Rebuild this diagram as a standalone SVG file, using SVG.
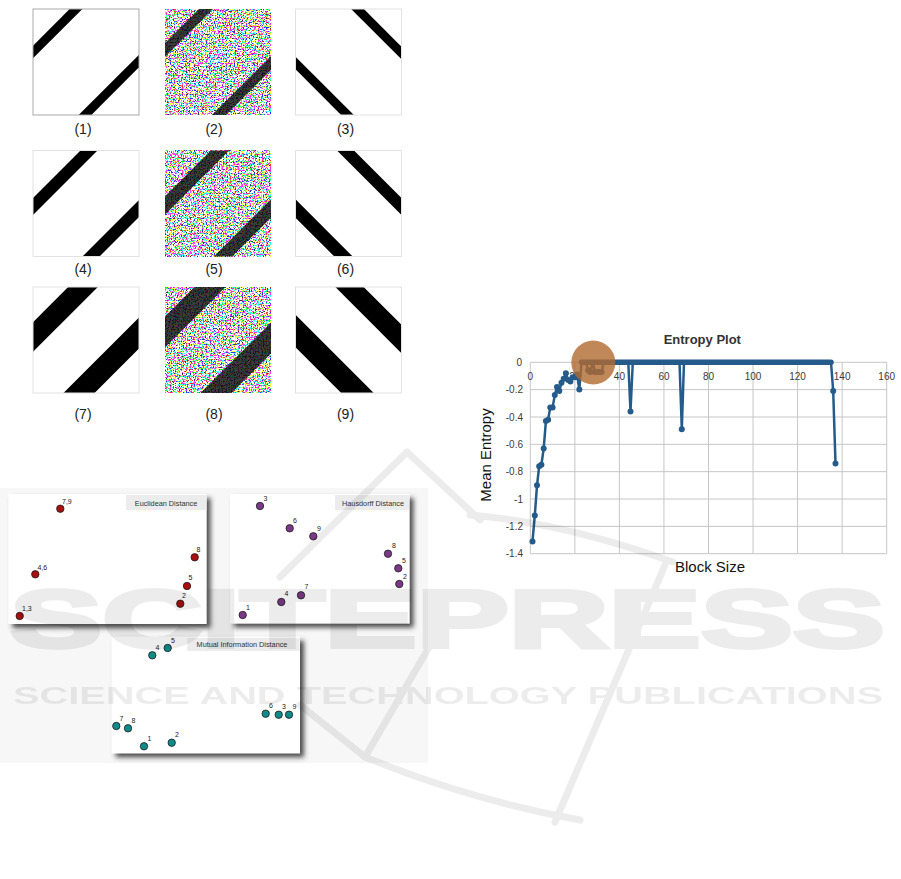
<svg xmlns="http://www.w3.org/2000/svg" width="901" height="879" viewBox="0 0 901 879">
<style>
text{font-family:"Liberation Sans",Arial,sans-serif}
.bg{fill:#fff}
.frame{fill:none;stroke:#e2e2e2;stroke-width:1}
.frame1{fill:none;stroke:#a9a9a9;stroke-width:1}
.st{stroke:#000;fill:none}
.stn{stroke:#000;stroke-opacity:0.76;fill:none}
.cap{font-size:14px;fill:#222;text-anchor:middle}
.panel{fill:#fff}
.tbar{fill:#ececec}
.ttl{font-size:7.3px;fill:#333;text-anchor:middle}
.pl{font-size:7px;fill:#222}
.red{fill:#a80f0f;stroke:#1a1a1a;stroke-width:0.8}
.pur{fill:#7a3a88;stroke:#1a1a1a;stroke-width:0.8}
.teal{fill:#0f8c89;stroke:#1a1a1a;stroke-width:0.8}
.grid{stroke:#c6c6c6;stroke-width:1;fill:none}
.tick{font-size:10px;fill:#3a3a3a}
.ser{fill:none;stroke:#245b8a;stroke-width:2.5;stroke-linejoin:round}
.mk{fill:#245b8a}
</style>
<defs>
<clipPath id="box"><rect width="106" height="106"/></clipPath>
<filter id="noiseA" x="0" y="0" width="1" height="1" color-interpolation-filters="sRGB">
<feTurbulence type="fractalNoise" baseFrequency="0.75" numOctaves="1" seed="3"/>
<feColorMatrix type="matrix" values="3 0 0 0 -1  0 3 0 0 -1  0 0 3 0 -1  0 0 0 0 1"/>
<feComponentTransfer><feFuncR type="discrete" tableValues="0.2 1 1"/><feFuncG type="discrete" tableValues="0.2 1 1"/><feFuncB type="discrete" tableValues="0.25 1 1"/><feFuncA type="linear" slope="0" intercept="1"/></feComponentTransfer>
</filter>
<filter id="noiseB" x="0" y="0" width="1" height="1" color-interpolation-filters="sRGB">
<feTurbulence type="fractalNoise" baseFrequency="0.75" numOctaves="1" seed="11"/>
<feColorMatrix type="matrix" values="3 0 0 0 -1  0 3 0 0 -1  0 0 3 0 -1  0 0 0 0 1"/>
<feComponentTransfer><feFuncR type="discrete" tableValues="0.2 1 1"/><feFuncG type="discrete" tableValues="0.2 1 1"/><feFuncB type="discrete" tableValues="0.25 1 1"/><feFuncA type="linear" slope="0" intercept="1"/></feComponentTransfer>
</filter>
<filter id="noiseC" x="0" y="0" width="1" height="1" color-interpolation-filters="sRGB">
<feTurbulence type="fractalNoise" baseFrequency="0.75" numOctaves="1" seed="27"/>
<feColorMatrix type="matrix" values="3 0 0 0 -1  0 3 0 0 -1  0 0 3 0 -1  0 0 0 0 1"/>
<feComponentTransfer><feFuncR type="discrete" tableValues="0.2 1 1"/><feFuncG type="discrete" tableValues="0.2 1 1"/><feFuncB type="discrete" tableValues="0.25 1 1"/><feFuncA type="linear" slope="0" intercept="1"/></feComponentTransfer>
</filter>
<filter id="shadow" x="-10%" y="-10%" width="125%" height="130%">
<feGaussianBlur in="SourceAlpha" stdDeviation="2.5"/>
<feOffset dx="4" dy="4" result="b"/>
<feFlood flood-color="#3a3a3a" flood-opacity="0.9"/>
<feComposite in2="b" operator="in"/>
<feMerge><feMergeNode/><feMergeNode in="SourceGraphic"/></feMerge>
</filter>
</defs>

<rect width="901" height="879" fill="#fff"/>
<rect x="0" y="488" width="428" height="275" fill="#f7f7f7"/>

<!-- image grid -->
<g id="img1" transform="translate(33,9)">
<rect class="bg" width="106" height="106"/>
<g clip-path="url(#box)">
<line class="st" stroke-width="9" x1="143" y1="-100" x2="-107" y2="150"/>
<line class="st" stroke-width="9" x1="258" y1="-100" x2="8" y2="150"/>
</g>
<rect class="frame1" width="106" height="106"/>
</g>
<g id="img2" transform="translate(165,9)">
<rect width="106" height="106" filter="url(#noiseA)"/>
<g clip-path="url(#box)">
<line class="stn" stroke-width="10" x1="141" y1="-100" x2="-109" y2="150"/>
<line class="stn" stroke-width="10" x1="260" y1="-100" x2="10" y2="150"/>
</g>
</g>
<g id="img3" transform="translate(295.5,9)">
<rect class="bg" width="106" height="106"/>
<g clip-path="url(#box)">
<line class="st" stroke-width="9" x1="-38" y1="-100" x2="212" y2="150"/>
<line class="st" stroke-width="9" x1="-154" y1="-100" x2="96" y2="150"/>
</g>
<rect class="frame" width="106" height="106"/>
</g>

<g id="img4" transform="translate(33,150.5)">
<rect class="bg" width="106" height="106"/>
<g clip-path="url(#box)">
<line class="st" stroke-width="12" x1="156" y1="-100" x2="-94" y2="150"/>
<line class="st" stroke-width="12" x1="264" y1="-100" x2="14" y2="150"/>
</g>
<rect class="frame" width="106" height="106"/>
</g>
<g id="img5" transform="translate(165,150.5)">
<rect width="106" height="106" filter="url(#noiseB)"/>
<g clip-path="url(#box)">
<line class="stn" stroke-width="13" x1="155" y1="-100" x2="-95" y2="150"/>
<line class="stn" stroke-width="13" x1="264" y1="-100" x2="14" y2="150"/>
</g>
</g>
<g id="img6" transform="translate(295.5,150.5)">
<rect class="bg" width="106" height="106"/>
<g clip-path="url(#box)">
<line class="st" stroke-width="12" x1="-50" y1="-100" x2="200" y2="150"/>
<line class="st" stroke-width="13" x1="-158" y1="-100" x2="92" y2="150"/>
</g>
<rect class="frame" width="106" height="106"/>
</g>

<g id="img7" transform="translate(33,287)">
<rect class="bg" width="106" height="106"/>
<g clip-path="url(#box)">
<line class="st" stroke-width="21" x1="150" y1="-100" x2="-100" y2="150"/>
<line class="st" stroke-width="22" x1="252" y1="-100" x2="2" y2="150"/>
</g>
<rect class="frame" width="106" height="106"/>
</g>
<g id="img8" transform="translate(165,287)">
<rect width="106" height="106" filter="url(#noiseC)"/>
<g clip-path="url(#box)">
<line class="stn" stroke-width="22" x1="145" y1="-100" x2="-105" y2="150"/>
<line class="stn" stroke-width="22" x1="257" y1="-100" x2="7" y2="150"/>
</g>
</g>
<g id="img9" transform="translate(295.5,287)">
<rect class="bg" width="106" height="106"/>
<g clip-path="url(#box)">
<line class="st" stroke-width="20" x1="-46" y1="-100" x2="204" y2="150"/>
<line class="st" stroke-width="23" x1="-144" y1="-100" x2="106" y2="150"/>
</g>
<rect class="frame" width="106" height="106"/>
</g>

<g id="captions">
<text class="cap" x="83" y="134">(1)</text>
<text class="cap" x="214" y="134">(2)</text>
<text class="cap" x="345.5" y="134">(3)</text>
<text class="cap" x="83" y="273.5">(4)</text>
<text class="cap" x="214" y="273.5">(5)</text>
<text class="cap" x="345.5" y="273.5">(6)</text>
<text class="cap" x="83" y="418.5">(7)</text>
<text class="cap" x="214" y="418.5">(8)</text>
<text class="cap" x="345.5" y="418.5">(9)</text>
</g>

<!-- scatter panels -->
<g id="euclidean">
<rect class="panel" x="8.5" y="494" width="198" height="130" filter="url(#shadow)"/>
<rect class="tbar" x="126" y="495" width="80.5" height="15"/>
<text class="ttl" x="166" y="505.5">Euclidean Distance</text>
<circle class="red" cx="60.3" cy="508.7" r="3.7"/><text class="pl" x="62" y="504">7,9</text>
<circle class="red" cx="35.3" cy="574.3" r="3.7"/><text class="pl" x="37.5" y="569.5">4,6</text>
<circle class="red" cx="19.7" cy="616" r="3.7"/><text class="pl" x="22" y="610.8">1,3</text>
<circle class="red" cx="194.7" cy="557.3" r="3.7"/><text class="pl" x="196.5" y="551.5">8</text>
<circle class="red" cx="187" cy="586" r="3.7"/><text class="pl" x="188.5" y="580">5</text>
<circle class="red" cx="180.3" cy="603.7" r="3.7"/><text class="pl" x="182" y="597.5">2</text>
</g>
<g id="hausdorff">
<rect class="panel" x="230" y="494" width="179.5" height="129.5" filter="url(#shadow)"/>
<rect class="tbar" x="335" y="495" width="74" height="15"/>
<text class="ttl" x="373" y="505.5">Hausdorff Distance</text>
<circle class="pur" cx="260" cy="506" r="3.7"/><text class="pl" x="263.5" y="500.5">3</text>
<circle class="pur" cx="289.7" cy="528.3" r="3.7"/><text class="pl" x="293" y="522.5">6</text>
<circle class="pur" cx="313.3" cy="536.3" r="3.7"/><text class="pl" x="317" y="530.5">9</text>
<circle class="pur" cx="388" cy="553.7" r="3.7"/><text class="pl" x="392" y="548">8</text>
<circle class="pur" cx="398.3" cy="568.3" r="3.7"/><text class="pl" x="402" y="563">5</text>
<circle class="pur" cx="399.3" cy="584" r="3.7"/><text class="pl" x="403" y="578.5">2</text>
<circle class="pur" cx="301" cy="595.3" r="3.7"/><text class="pl" x="304.5" y="589">7</text>
<circle class="pur" cx="281.3" cy="602" r="3.7"/><text class="pl" x="284.5" y="596">4</text>
<circle class="pur" cx="242.7" cy="615" r="3.7"/><text class="pl" x="246" y="609.5">1</text>
</g>
<g id="mutual">
<rect class="panel" x="111.7" y="636.7" width="188.3" height="116.6" filter="url(#shadow)"/>
<rect class="tbar" x="187.3" y="638" width="112.2" height="13"/>
<text class="ttl" x="242" y="647">Mutual Information Distance</text>
<circle class="teal" cx="152.3" cy="655.3" r="3.7"/><text class="pl" x="155.5" y="650">4</text>
<circle class="teal" cx="167.7" cy="648" r="3.7"/><text class="pl" x="171" y="642.5">5</text>
<circle class="teal" cx="116.3" cy="726" r="3.7"/><text class="pl" x="119.5" y="720.5">7</text>
<circle class="teal" cx="128" cy="728.3" r="3.7"/><text class="pl" x="131.5" y="723">8</text>
<circle class="teal" cx="144" cy="746.3" r="3.7"/><text class="pl" x="147.5" y="741">1</text>
<circle class="teal" cx="171.7" cy="742.7" r="3.7"/><text class="pl" x="175" y="737">2</text>
<circle class="teal" cx="265.7" cy="713.7" r="3.7"/><text class="pl" x="269" y="708">6</text>
<circle class="teal" cx="278.7" cy="714.7" r="3.7"/><text class="pl" x="282" y="709">3</text>
<circle class="teal" cx="289" cy="714.7" r="3.7"/><text class="pl" x="292.5" y="709">9</text>
</g>

<!-- entropy plot -->
<g id="entropy-plot">
<g class="grid">
<line x1="530.3" y1="362.3" x2="530.3" y2="553.7"/>
<line x1="574.85" y1="362.3" x2="574.85" y2="553.7"/>
<line x1="619.4" y1="362.3" x2="619.4" y2="553.7"/>
<line x1="663.95" y1="362.3" x2="663.95" y2="553.7"/>
<line x1="708.5" y1="362.3" x2="708.5" y2="553.7"/>
<line x1="753.05" y1="362.3" x2="753.05" y2="553.7"/>
<line x1="797.6" y1="362.3" x2="797.6" y2="553.7"/>
<line x1="842.15" y1="362.3" x2="842.15" y2="553.7"/>
<line x1="886.7" y1="362.3" x2="886.7" y2="553.7"/>
<line x1="530.3" y1="362.3" x2="886.7" y2="362.3"/>
<line x1="530.3" y1="389.64" x2="886.7" y2="389.64"/>
<line x1="530.3" y1="416.99" x2="886.7" y2="416.99"/>
<line x1="530.3" y1="444.33" x2="886.7" y2="444.33"/>
<line x1="530.3" y1="471.67" x2="886.7" y2="471.67"/>
<line x1="530.3" y1="499.01" x2="886.7" y2="499.01"/>
<line x1="530.3" y1="526.36" x2="886.7" y2="526.36"/>
<line x1="530.3" y1="553.7" x2="886.7" y2="553.7"/>
</g>
<g class="tick" text-anchor="middle">
<text x="530.3" y="380">0</text>
<text x="574.85" y="380">20</text>
<text x="619.4" y="380">40</text>
<text x="663.95" y="380">60</text>
<text x="708.5" y="380">80</text>
<text x="753.05" y="380">100</text>
<text x="797.6" y="380">120</text>
<text x="842.15" y="380">140</text>
<text x="886.7" y="380">160</text>
</g>
<g class="tick" text-anchor="end">
<text x="522" y="365.8">0</text>
<text x="523" y="393.1">-0.2</text>
<text x="523" y="420.5">-0.4</text>
<text x="523" y="447.8">-0.6</text>
<text x="523" y="475.2">-0.8</text>
<text x="523" y="502.5">-1</text>
<text x="523" y="529.9">-1.2</text>
<text x="523" y="557.2">-1.4</text>
</g>
<text x="702.3" y="344" font-size="13" font-weight="bold" fill="#333" text-anchor="middle">Entropy Plot</text>
<text transform="translate(490.5,455) rotate(-90)" font-size="15" fill="#111" text-anchor="middle">Mean Entropy</text>
<text x="710" y="571.5" font-size="15" fill="#111" text-anchor="middle">Block Size</text>
<polyline class="ser" points="532.5,541.4 534.8,515.4 537.0,485.3 539.2,466.2 541.4,464.8 543.7,448.4 545.9,421.1 548.1,419.7 550.3,407.4 552.6,407.4 554.8,395.1 557.0,386.9 559.3,391.0 561.5,382.8 563.7,378.7 565.9,373.2 568.2,380.1 570.4,381.4 572.6,377.3 574.9,377.3 577.1,374.6 579.3,389.6 581.5,362.3 583.8,362.3 586.0,362.3 588.2,370.5 590.4,371.9 592.7,362.3 594.9,371.9 597.1,371.9 599.4,371.9 601.6,371.9 603.8,362.3 628.3,362.3 630.5,411.5 632.8,362.3 679.5,362.3 681.8,429.3 684.0,362.3 831.0,362.3 833.2,391.0 835.5,463.5"/>
<line x1="581.5" y1="362.3" x2="831" y2="362.3" stroke="#245b8a" stroke-width="5.5" stroke-linecap="round"/>
<g class="mk">
<circle cx="532.5" cy="541.4" r="3"/><circle cx="534.8" cy="515.4" r="3"/><circle cx="537.0" cy="485.3" r="3"/><circle cx="539.2" cy="466.2" r="3"/><circle cx="541.4" cy="464.8" r="3"/><circle cx="543.7" cy="448.4" r="3"/><circle cx="545.9" cy="421.1" r="3"/><circle cx="548.1" cy="419.7" r="3"/><circle cx="550.3" cy="407.4" r="3"/><circle cx="552.6" cy="407.4" r="3"/><circle cx="554.8" cy="395.1" r="3"/><circle cx="557.0" cy="386.9" r="3"/><circle cx="559.3" cy="391.0" r="3"/><circle cx="561.5" cy="382.8" r="3"/><circle cx="563.7" cy="378.7" r="3"/><circle cx="565.9" cy="373.2" r="3"/><circle cx="568.2" cy="380.1" r="3"/><circle cx="570.4" cy="381.4" r="3"/><circle cx="572.6" cy="377.3" r="3"/><circle cx="574.9" cy="377.3" r="3"/><circle cx="577.1" cy="374.6" r="3"/><circle cx="579.3" cy="389.6" r="3"/><circle cx="588.2" cy="370.5" r="3"/><circle cx="590.4" cy="371.9" r="3"/><circle cx="594.9" cy="371.9" r="3"/><circle cx="597.1" cy="371.9" r="3"/><circle cx="599.4" cy="371.9" r="3"/><circle cx="601.6" cy="371.9" r="3"/><circle cx="630.5" cy="411.5" r="3"/><circle cx="681.8" cy="429.3" r="3"/><circle cx="833.2" cy="391.0" r="3"/><circle cx="835.5" cy="463.5" r="3"/>
</g>
<circle cx="593.3" cy="362.5" r="22" fill="#b06a30" fill-opacity="0.8"/>
</g>

<!-- watermark -->
<g id="watermark" opacity="0.07">
<g fill="none" stroke="#000" stroke-width="7" stroke-linecap="round" stroke-linejoin="round">
<path d="M280 577 L407 452 L480 520"/>
<path d="M470 515 Q560 522 673 562"/>
<path d="M442 625 L365 757"/>
<path d="M300 705 L365 757 Q470 800 580 820"/>
<path d="M665 565 L555 822"/>
</g>
<text x="10" y="647" font-size="82" font-weight="bold" textLength="875" lengthAdjust="spacingAndGlyphs" fill="#000" stroke="#000" stroke-width="4">SCITEPRESS</text>
<text x="13" y="703.5" font-size="23" font-weight="bold" textLength="870" lengthAdjust="spacingAndGlyphs" fill="#000">SCIENCE AND TECHNOLOGY PUBLICATIONS</text>
</g>
</svg>
